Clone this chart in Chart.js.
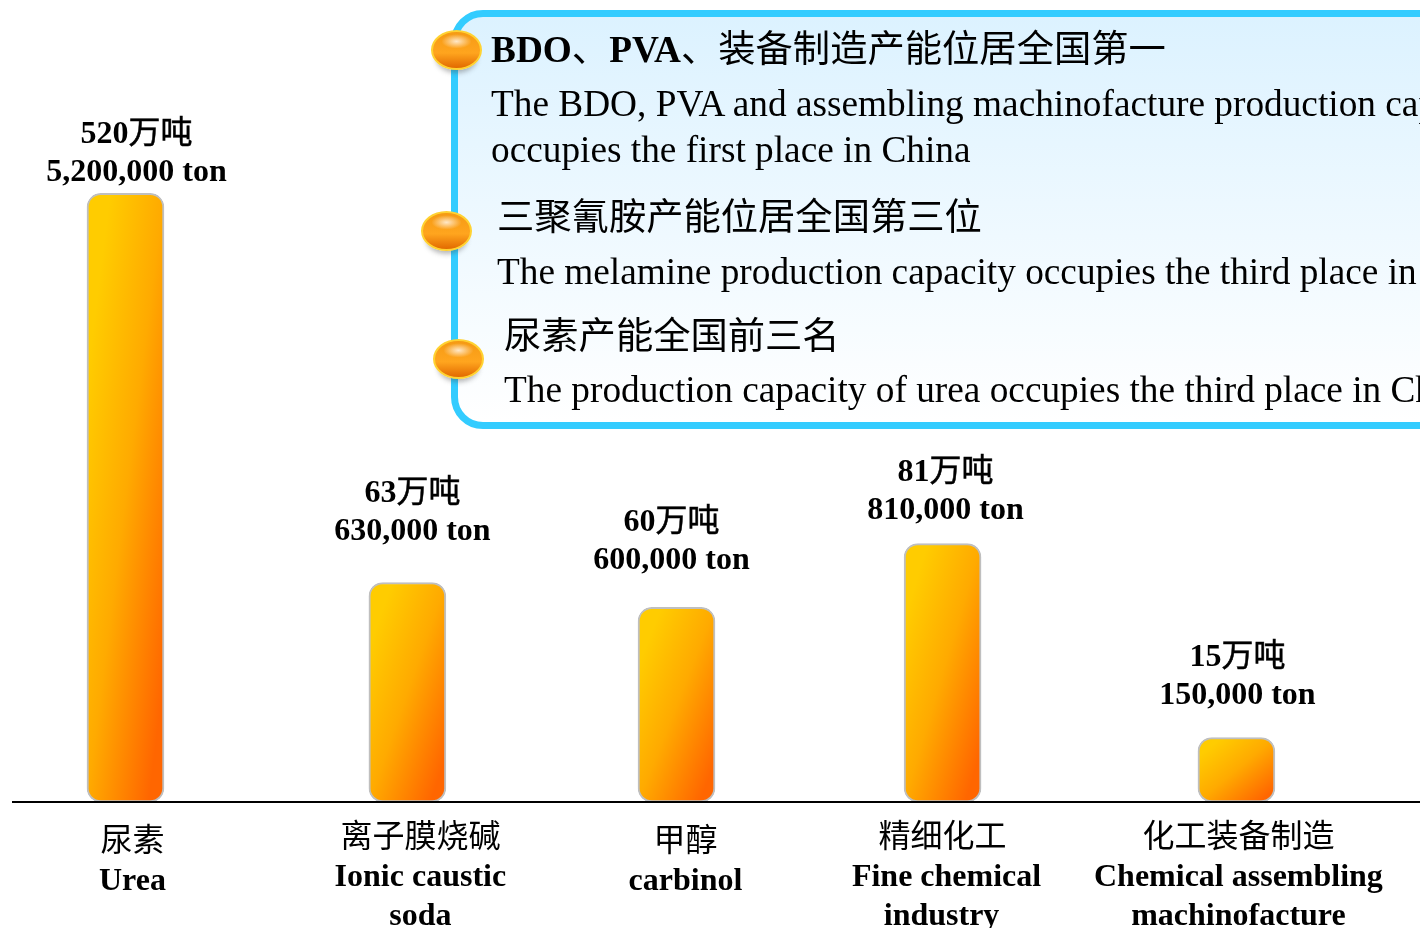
<!DOCTYPE html>
<html lang="zh-CN">
<head>
    <meta charset="UTF-8">
    <title>Production capacity</title>
    <script src="https://cdn.jsdelivr.net/npm/chart.js"></script>
    <style>
        html, body { margin: 0; padding: 0; background: #fff; overflow: hidden; }
        #wrap { position: relative; width: 1420px; height: 928px; overflow: hidden; font-family: "Liberation Serif", "Noto Sans CJK SC", serif; color: #000; }
        #chart { position: absolute; left: 0; top: 0; }
        #panel { position: absolute; left: 451px; top: 10px; width: 1100px; height: 419px; box-sizing: border-box; border: 7px solid #33ccff; border-radius: 32px; background: linear-gradient(#dcf2ff, #ffffff); }
        .line { position: absolute; white-space: nowrap; font-size: 37.3px; line-height: 44px; }
        .line span { font-weight: normal; }
        .orb { position: absolute; width: 51px; height: 40px; box-sizing: border-box; border-radius: 50%; border: 2px solid #ffd232;
               background: radial-gradient(ellipse 32% 20% at 50% 26%, #ffe8c8, rgba(255,190,90,0) 100%), linear-gradient(#f59a14 0%, #ffa51e 58%, #e26a00 100%);
               box-shadow: 0 8px 5px -5px rgba(70,70,70,.4); }
    </style>
</head>
<body>
<div id="wrap">
    <canvas id="chart" width="1420" height="928"></canvas>
    <div id="panel"></div>
    <div class="line" style="left:491px;top:28px"><b>BDO</b><span>、</span><b>PVA</b><span>、装备制造产能位居全国第一</span></div>
    <div class="line" style="left:491px;top:82px">The BDO, PVA and assembling machinofacture production capacity</div>
    <div class="line" style="left:491px;top:128px">occupies the first place in China</div>
    <div class="line" style="left:497px;top:196px">三聚氰胺产能位居全国第三位</div>
    <div class="line" style="left:497px;top:250px">The melamine production capacity occupies the third place in China</div>
    <div class="line" style="left:504px;top:315px">尿素产能全国前三名</div>
    <div class="line" style="left:504px;top:368px">The production capacity of urea occupies the third place in China</div>
    <div class="orb" style="left:431px;top:30px"></div>
    <div class="orb" style="left:421px;top:211px"></div>
    <div class="orb" style="left:433px;top:339px"></div>
</div>
<script>
    // values as printed above the bars
    const capacityNum = ['520', '63', '60', '81', '15'];
    const capacityUnit = '万吨';
    const capacityEn = ['5,200,000 ton', '630,000 ton', '600,000 ton', '810,000 ton', '150,000 ton'];
    // drawn bar height, percent of the tallest bar (the picture is not to scale)
    const barHeights = [100.1, 36.1, 32, 42.5, 10.6];
    // bars are not evenly spaced in the picture
    const barSlots = [0, 1.015, 1.984, 2.942, 4];
    const categoryLines = [
        ['尿素', 'Urea'],
        ['离子膜烧碱', 'Ionic caustic', 'soda'],
        ['甲醇', 'carbinol'],
        ['精细化工', 'Fine chemical', 'industry'],
        ['化工装备制造', 'Chemical assembling', 'machinofacture']
    ];

    // label placement
    const valueNudge = [11, 5, -5, 3, 1];
    const valueTop = [135, 494, 523, 473, 658];
    const categoryNudge = [
        [7, 7],
        [13, 13, 13],
        [9, 9],
        [0, 4, -1],
        [2, 2, 2]
    ];
    const categoryTop = [843, 839, 843, 839, 839];

    const boldFont = 'bold 32px "Liberation Serif", "Noto Sans CJK SC"';
    const plainFont = '32px "Liberation Serif", "Noto Sans CJK SC"';

    function barGradient(context) {
        const chart = context.chart;
        const xs = chart.scales.x, ys = chart.scales.y;
        const w = 77;
        const cx = xs ? xs.getPixelForValue(barSlots[context.dataIndex]) : NaN;
        const top = ys ? ys.getPixelForValue(barHeights[context.dataIndex]) : NaN;
        const h = ys ? ys.getPixelForValue(0) - top : NaN;
        if (!Number.isFinite(cx) || !Number.isFinite(top) || !Number.isFinite(h)) return '#ff9900';
        const k = 2 / (h / w + w / h);
        const x0 = cx - w / 2;
        const g = chart.ctx.createLinearGradient(x0, top, x0 + k * h, top + k * w);
        g.addColorStop(0.15, '#ffcc00');
        g.addColorStop(0.5, '#ffaa00');
        g.addColorStop(0.9, '#ff6600');
        return g;
    }

    function drawValueHead(ctx, num, x, y) {
        // bold digits, lighter CJK unit with a thin outline
        ctx.font = boldFont;
        const numW = ctx.measureText(num).width;
        ctx.font = plainFont;
        const unitW = ctx.measureText(capacityUnit).width;
        const left = x - (numW + unitW) / 2;
        ctx.textAlign = 'left';
        ctx.font = boldFont;
        ctx.fillText(num, left, y);
        ctx.font = plainFont;
        ctx.fillText(capacityUnit, left + numW, y);
        ctx.lineWidth = 0.5;
        ctx.strokeText(capacityUnit, left + numW, y);
        ctx.textAlign = 'center';
    }

    const barLabels = {
        id: 'barLabels',
        afterDraw(chart) {
            const ctx = chart.ctx;
            const meta = chart.getDatasetMeta(0);
            ctx.save();
            ctx.textAlign = 'center';
            ctx.textBaseline = 'middle';
            ctx.fillStyle = '#000';
            ctx.strokeStyle = '#000';
            meta.data.forEach((bar, i) => {
                const x = bar.x + valueNudge[i];
                drawValueHead(ctx, capacityNum[i], x, valueTop[i]);
                ctx.font = boldFont;
                ctx.fillText(capacityEn[i], x, valueTop[i] + 38);
                categoryLines[i].forEach((text, n) => {
                    ctx.font = n === 0 ? plainFont : boldFont;
                    ctx.fillText(text, bar.x + categoryNudge[i][n], categoryTop[i] + n * 39);
                });
            });
            ctx.restore();
        }
    };

    new Chart(document.getElementById('chart'), {
        type: 'bar',
        data: {
            datasets: [{
                data: barSlots.map((s, i) => ({ x: s, y: barHeights[i] })),
                backgroundColor: barGradient,
                borderColor: '#bfbfbf',
                borderWidth: 2,
                borderRadius: 14,
                borderSkipped: false,
                barThickness: 77
            }]
        },
        options: {
            responsive: false,
            animation: false,
            layout: { padding: { left: 13, right: 0, top: 0, bottom: 126 } },
            plugins: { legend: { display: false }, tooltip: { enabled: false } },
            scales: {
                x: {
                    type: 'linear',
                    offset: false,
                    min: -0.405,
                    max: 4.661,
                    grid: { display: false, drawTicks: false },
                    border: { display: true, color: '#000', width: 2, z: 1 },
                    ticks: { display: false }
                },
                y: {
                    display: false,
                    min: 0,
                    max: 131.9
                }
            }
        },
        plugins: [barLabels]
    });
</script>
</body>
</html>
